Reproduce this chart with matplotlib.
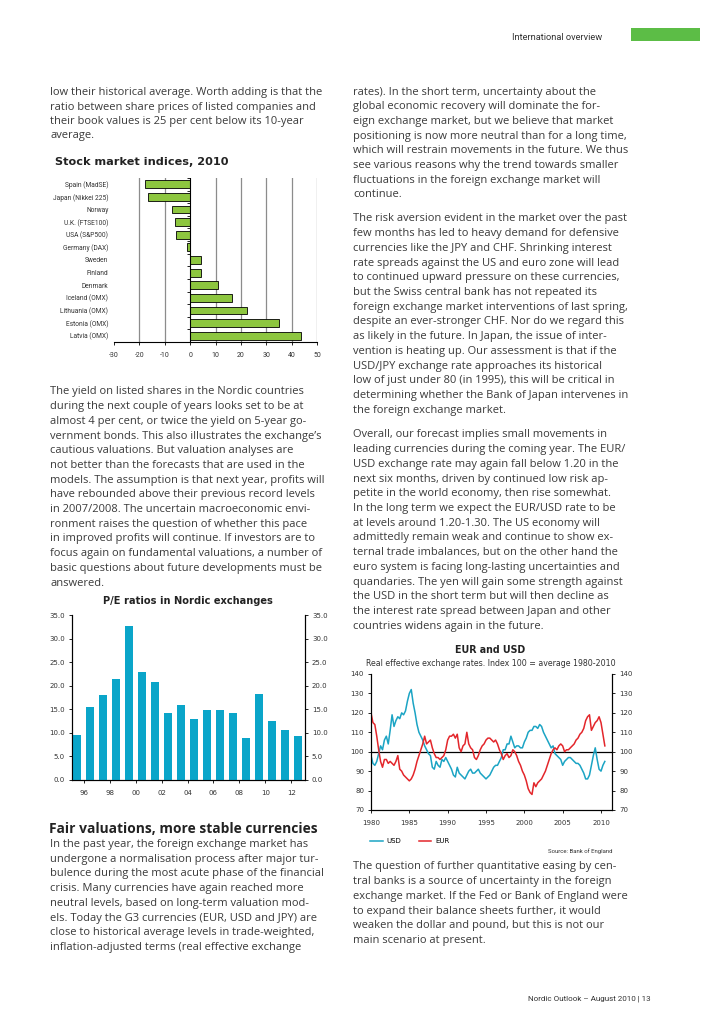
import numpy as np
import matplotlib.pyplot as plt

W, H = 728, 1030
fig = plt.figure(figsize=(7.28, 10.30), dpi=100)

# page helpers: pixel -> figure coords
def fx(x): return x / W
def fy(y): return 1 - y / H
def box(x0, y0, x1, y1): return [fx(x0), fy(y1), (x1 - x0) / W, (y1 - y0) / H]

def fit(t, target):
    r = fig.canvas.get_renderer()
    w = t.get_window_extent(renderer=r).width
    t.set_fontsize(t.get_fontsize() * target / w)

BODY = 'Open Sans'
NARROW = 'Roboto'
TXT = '#3a3a3a'

# ---------------- data ----------------
stock_names = ['Spain (MadSE)', 'Japan (Nikkei 225)', 'Norway', 'U.K. (FTSE100)', 'USA (S&P500)',
               'Germany (DAX)', 'Sweden', 'Finland', 'Denmark', 'Iceland (OMX)', 'Lithuania (OMX)',
               'Estonia (OMX)', 'Latvia (OMX)']
stock_vals = [-17.7, -16.5, -7.3, -5.8, -5.4, -1.2, 4.1, 4.3, 11.0, 16.5, 22.4, 35.0, 43.7]
stock_ticks = [-30, -20, -10, 0, 10, 20, 30, 40, 50]

pe_years = [1995, 1996, 1997, 1998, 1999, 2000, 2001, 2002, 2003, 2004, 2005, 2006, 2007, 2008,
            2009, 2010, 2011, 2012]
pe_vals = [9.6, 15.4, 18.0, 21.4, 32.6, 23.0, 20.8, 14.2, 16.0, 13.0, 14.9, 14.9, 14.3, 9.0,
           18.2, 12.5, 10.6, 9.4]
pe_ticks = [1996, 1998, 2000, 2002, 2004, 2006, 2008, 2010, 2012]
pe_ticklabels = ['96', '98', '00', '02', '04', '06', '08', '10', '12']

# quarterly readings, 1980Q1 .. 2010Q3
fx_quarters = 1980 + np.arange(123) / 4
usd = [98, 94, 93, 95,  99, 103, 101, 106,  108, 104, 111, 119,  113, 116, 118, 117,
       120, 119, 121, 126,  130, 132, 125, 120,  114, 110, 108, 106,  103, 101, 99, 98,
       92, 91, 95, 93,  92, 96, 95, 97,  95, 93, 91, 88,  87, 92, 89, 88,
       87, 86, 88, 90,  91, 89, 89, 90,  91, 89, 88, 87,  86, 87, 88, 90,
       92, 93, 93, 95,  97, 101, 101, 104,  104, 108, 105, 102,  103, 103, 102, 102,
       105, 107, 110, 111,  111, 113, 113, 112,  114, 113, 110, 108,  106, 104, 102, 103,
       99, 98, 97, 96,  93, 95, 96, 97,  97, 96, 95, 94,  94, 93, 91, 89,
       86, 86, 88, 93,  98, 102, 96, 91,  90, 93, 95]
eur = [120, 115, 114, 108,  101, 95, 92, 96,  96, 94, 95, 94,  93, 95, 98, 91,
       90, 88, 87, 86,  85, 86, 88, 91,  95, 98, 101, 104,  108, 104, 105, 106,
       102, 99, 97, 97,  96, 97, 98, 101,  106, 108, 108, 109,  107, 109, 102, 100,
       103, 104, 110, 104,  102, 101, 97, 96,  98, 101, 103, 104,  106, 107, 107, 106,
       105, 106, 104, 101,  99, 96, 98, 99,  97, 98, 101, 100,  98, 95, 93, 90,
       88, 85, 81, 79,  78, 84, 82, 84,  85, 86, 88, 90,  93, 96, 99, 101,
       102, 101, 103, 104,  103, 100, 101, 101,  102, 103, 104, 106,  107, 109, 110, 112,
       116, 118, 119, 111,  113, 115, 116, 118,  115, 109, 103]

left_p1 = ["low their historical average. Worth adding is that the",
           "ratio between share prices of listed companies and",
           "their book values is 25 per cent below its 10-year",
           "average."]
left_p2 = ["The yield on listed shares in the Nordic countries",
           "during the next couple of years looks set to be at",
           "almost 4 per cent, or twice the yield on 5-year go-",
           "vernment bonds. This also illustrates the exchange\u2019s",
           "cautious valuations. But valuation analyses are",
           "not better than the forecasts that are used in the",
           "models. The assumption is that next year, profits will",
           "have rebounded above their previous record levels",
           "in 2007/2008. The uncertain macroeconomic envi-",
           "ronment raises the question of whether this pace",
           "in improved profits will continue. If investors are to",
           "focus again on fundamental valuations, a number of",
           "basic questions about future developments must be",
           "answered."]
left_p3 = ["In the past year, the foreign exchange market has",
           "undergone a normalisation process after major tur-",
           "bulence during the most acute phase of the financial",
           "crisis. Many currencies have again reached more",
           "neutral levels, based on long-term valuation mod-",
           "els. Today the G3 currencies (EUR, USD and JPY) are",
           "close to historical average levels in trade-weighted,",
           "inflation-adjusted terms (real effective exchange"]
right_p1 = ["rates). In the short term, uncertainty about the",
            "global economic recovery will dominate the for-",
            "eign exchange market, but we believe that market",
            "positioning is now more neutral than for a long time,",
            "which will restrain movements in the future. We thus",
            "see various reasons why the trend towards smaller",
            "fluctuations in the foreign exchange market will",
            "continue."]
right_p2 = ["The risk aversion evident in the market over the past",
            "few months has led to heavy demand for defensive",
            "currencies like the JPY and CHF. Shrinking interest",
            "rate spreads against the US and euro zone will lead",
            "to continued upward pressure on these currencies,",
            "but the Swiss central bank has not repeated its",
            "foreign exchange market interventions of last spring,",
            "despite an ever-stronger CHF. Nor do we regard this",
            "as likely in the future. In Japan, the issue of inter-",
            "vention is heating up. Our assessment is that if the",
            "USD/JPY exchange rate approaches its historical",
            "low of just under 80 (in 1995), this will be critical in",
            "determining whether the Bank of Japan intervenes in",
            "the foreign exchange market."]
right_p3 = ["Overall, our forecast implies small movements in",
            "leading currencies during the coming year. The EUR/",
            "USD exchange rate may again fall below 1.20 in the",
            "next six months, driven by continued low risk ap-",
            "petite in the world economy, then rise somewhat.",
            "In the long term we expect the EUR/USD rate to be",
            "at levels around 1.20-1.30. The US economy will",
            "admittedly remain weak and continue to show ex-",
            "ternal trade imbalances, but on the other hand the",
            "euro system is facing long-lasting uncertainties and",
            "quandaries. The yen will gain some strength against",
            "the USD in the short term but will then decline as",
            "the interest rate spread between Japan and other",
            "countries widens again in the future."]
right_p4 = ["The question of further quantitative easing by cen-",
            "tral banks is a source of uncertainty in the foreign",
            "exchange market. If the Fed or Bank of England were",
            "to expand their balance sheets further, it would",
            "weaken the dollar and pound, but this is not our",
            "main scenario at present."]

# ---------------- body text ----------------
probe = fig.text(0, 0, left_p1[1], family=BODY, fontsize=10)
fit(probe, 264)
body_size = probe.get_fontsize()
probe.remove()

def para(lines, x, y0, step=14.7):
    for i, s in enumerate(lines):
        fig.text(fx(x), fy(y0 + i * step), s, family=BODY, fontsize=body_size,
                 color=TXT, va='center', ha='left')

para(left_p1, 50, 93, 14.2)
para(left_p2, 50, 392)
para(left_p3, 50, 844.5)
para(right_p1, 353, 92)
para(right_p2, 353, 219)
para(right_p3, 353, 435)
para(right_p4, 353, 867)

hd = fig.text(fx(49), fy(829), 'Fair valuations, more stable currencies', family=BODY,
              weight='bold', fontsize=10, color='#222222', va='center')
fit(hd, 268)

# header / footer
t = fig.text(fx(512), fy(37), 'International overview', family=NARROW, fontsize=7,
             color='#333333', va='center')
fit(t, 91)
fig.patches.append(plt.Rectangle((fx(631), fy(41)), 69 / W, 13 / H, transform=fig.transFigure,
                                 color='#5cbd46', lw=0))
t = fig.text(fx(528), fy(999), 'Nordic Outlook \u2013 August 2010 | 13', family=NARROW,
             fontsize=7, color='#333333', va='center')
fit(t, 122)

# ---------------- stock market indices ----------------
t = fig.text(fx(55), fy(162), 'Stock market indices, 2010', weight='bold', fontsize=8,
             color='#222222', va='center')
fit(t, 172)
ax1 = fig.add_axes(box(114, 178, 317, 342))
n = len(stock_names)
yy = np.arange(n)
ax1.barh(yy, stock_vals, height=0.62, color='#8dc63f', edgecolor='black', lw=0.6, zorder=3)
ax1.set_xlim(-30, 50)
ax1.set_ylim(n - 0.5, -0.5)
for v in stock_ticks:
    if v not in (-30, 0):
        ax1.axvline(v, color='#8c8c8c', lw=0.9, zorder=0)
ax1.axvline(0, color='black', lw=0.8, zorder=4)
ax1.hlines(np.arange(n + 1) - 0.5, -1.4, 0, color='black', lw=0.6, zorder=4)
ax1.set_xticks(stock_ticks)
ax1.set_xticklabels([str(v) for v in stock_ticks], family=NARROW, fontsize=5, color='#333333')
ax1.set_yticks(yy)
ax1.set_yticklabels(stock_names, family=NARROW, fontsize=4.8, color='#333333')
ax1.tick_params(axis='y', length=0, pad=4)
ax1.tick_params(axis='x', length=2, width=0.6, pad=5)
for s in ['top', 'right', 'left']:
    ax1.spines[s].set_visible(False)
ax1.spines['bottom'].set_linewidth(0.8)

# ---------------- P/E ratios ----------------
t = fig.text(fx(188), fy(601), 'P/E ratios in Nordic exchanges', weight='bold', fontsize=7,
             color='#222222', va='center', ha='center')
fit(t, 171)
ax2 = fig.add_axes(box(72, 615, 305, 780))
ax2.bar(np.array(pe_years) + 0.5, pe_vals, width=0.64, color='#0aa5c9', zorder=3)
ax2.set_xlim(1995.1, 2013.05)
ax2.set_ylim(0, 35)
ax2.set_xticks(pe_ticks)
ax2.set_xticklabels(pe_ticklabels, fontsize=5, color='#333333')
yt = np.arange(0, 36, 5)
ax2.set_yticks(yt)
ax2.set_yticklabels(['%.1f' % v for v in yt], fontsize=5, color='#333333')
ax2r = ax2.twinx()
ax2r.set_ylim(0, 35)
ax2r.set_yticks(yt)
ax2r.set_yticklabels(['%.1f' % v for v in yt], fontsize=5, color='#333333')
for a in (ax2, ax2r):
    a.spines['top'].set_visible(False)
    for s in ['left', 'right', 'bottom']:
        a.spines[s].set_linewidth(0.8)
    a.tick_params(length=2, width=0.6, pad=3)
ax2.tick_params(axis='x', pad=5)

# ---------------- EUR and USD ----------------
t = fig.text(fx(490), fy(650), 'EUR and USD', weight='bold', fontsize=7, color='#222222',
             va='center', ha='center')
fit(t, 71)
t = fig.text(fx(491), fy(663), 'Real effective exchange rates. Index 100 = average 1980-2010',
             fontsize=5, color='#333333', va='center', ha='center')
fit(t, 253)
ax3 = fig.add_axes(box(371, 674, 612.5, 810))
ax3.plot(fx_quarters, usd, color='#1ba4c4', lw=1.1, label='USD', zorder=3)
ax3.plot(fx_quarters, eur, color='#e3262b', lw=1.1, label='EUR', zorder=3)
ax3.axhline(100, color='black', lw=0.9, zorder=2)
ax3.set_xlim(1980, 2011.5)
ax3.set_ylim(70, 140)
xt = np.arange(1980, 2011, 5)
ax3.set_xticks(xt)
ax3.set_xticklabels([str(v) for v in xt], fontsize=5, color='#333333')
yt3 = np.arange(70, 141, 10)
ax3.set_yticks(yt3)
ax3.set_yticklabels([str(v) for v in yt3], fontsize=5, color='#333333')
ax3r = ax3.twinx()
ax3r.set_ylim(70, 140)
ax3r.set_yticks(yt3)
ax3r.set_yticklabels([str(v) for v in yt3], fontsize=5, color='#333333')
for a in (ax3, ax3r):
    a.spines['top'].set_visible(False)
    for s in ['left', 'right', 'bottom']:
        a.spines[s].set_linewidth(0.8)
    a.tick_params(length=2, width=0.6, pad=3)
ax3.tick_params(axis='x', pad=5)
ax3.legend(loc='center left', bbox_to_anchor=(fx(370), fy(841)), bbox_transform=fig.transFigure,
           ncol=2, frameon=False, fontsize=5, handlelength=1.8, columnspacing=2.5,
           handletextpad=0.6, borderaxespad=0, borderpad=0)
fig.text(fx(612), fy(851), 'Source: Bank of England', family=NARROW, fontsize=4.3,
         color='#333333', va='center', ha='right')

fig.savefig('out.png', dpi=100)
